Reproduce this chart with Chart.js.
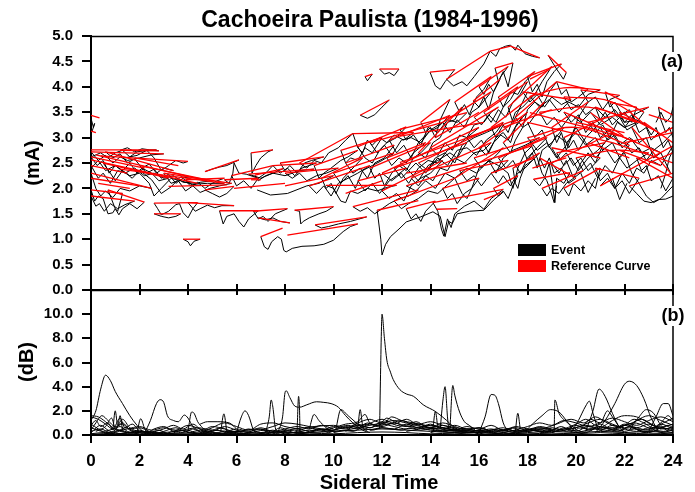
<!DOCTYPE html>
<html><head><meta charset="utf-8">
<script src="https://cdn.jsdelivr.net/npm/chart.js@4"></script>
<style>html,body{margin:0;padding:0;background:#fff;}#wrap{position:relative;width:695px;height:492px;}canvas{position:absolute;left:0;top:0;}</style>
</head><body><div id="wrap"><canvas id="ca" width="695" height="492"></canvas><canvas id="cb" width="695" height="492"></canvas></div>
<script>
const titleText = 'Cachoeira Paulista (1984-1996)';
const xTitle = 'Sideral Time';
const legendLabels = ['Event', 'Reference Curve'];
const hourTicks = [0,2,4,6,8,10,12,14,16,18,20,22,24];
const maTicks = [0,0.5,1,1.5,2,2.5,3,3.5,4,4.5,5];
const dbTicks = [0,2,4,6,8,10,12];

// Panel (a): reference curves (red), [hour, mA, hour, mA, ...]
const refCurves = [
[0,2.76,2.7,2.76],[0,2.72,3.0,2.68],[0.4,2.64,4.0,2.53],[0,2.56,4.4,2.1],[0.2,2.66,4.8,2.15],
[1.2,2.38,5.5,2.1],[0,2.3,2.5,2.0],[0,1.97,1.3,1.9],[0.7,1.97,2.2,1.73],[0,2.45,1.5,2.3],
[0,2.2,2.0,2.05],[1.2,2.75,2.8,2.74],[0.3,2.1,1.6,2.0],[0,3.44,0.35,3.39],[0,3.13,0.2,3.1],
[1.8,2.6,3.6,2.45],[0.5,2.5,3.2,2.2],[2.6,1.71,4.4,1.72],[4.0,1.72,5.9,1.66],[2.6,1.5,3.7,1.5],
[3.8,1.0,4.5,1.0],[4.7,2.33,6.1,2.56],[3.9,2.17,5.5,2.2],[4.7,1.97,5.9,2.04],[5.5,2.17,6.9,2.2],
[3.2,2.04,5.6,2.07],[6.6,2.7,7.5,2.76],[5.3,1.56,6.9,1.56],[6.7,1.55,8.1,1.6],[6.9,1.42,8.2,1.32],
[5.9,2.0,8.0,2.1],[7.0,1.05,7.9,1.22],[8.1,1.08,11.0,1.3],[8.0,2.05,10.0,2.25],[6.5,2.28,9.2,2.38],
[9.2,2.45,11.0,2.75],[6.76,2.26,7.93,2.39],[6.6,2.17,7.0,2.17],
[10.8,3.08,13.3,3.1],[8.6,2.5,10.8,3.08],[9.7,2.06,12.6,2.06],[10.8,1.64,13.5,1.97],[11.8,1.57,13.5,1.76],
[9.24,1.28,11.37,1.44],[8.4,1.57,10.0,1.64],[11.1,3.44,12.3,3.74],[11.3,4.2,11.6,4.25],[11.9,4.35,12.7,4.35],
[12.0,2.3,16.0,3.2],[12.3,2.95,14.8,3.44],[11.0,2.82,13.0,3.21],[12.74,2.51,16.87,3.23],[13.0,2.05,18.2,2.84],
[14.1,1.72,17.0,1.98],[12.74,3.16,15.5,3.49],[12.74,3.03,16.2,3.3],[14.66,4.15,16.46,4.7],[13.98,4.29,15.0,4.34],
[16.46,4.7,17.3,4.8],[17.3,4.8,18.5,4.57],[16.66,4.37,17.4,4.47],[15.76,3.72,16.87,4.15],[15.8,3.4,17.6,4.0],
[13.5,2.7,15.3,3.6],[12.0,1.95,14.5,2.55],[12.5,1.75,15.0,2.2],[15.0,2.2,17.0,2.8],[16.2,1.78,16.9,1.91],
[14.25,1.59,15.1,1.6],[17.4,2.4,18.5,2.7],[17.0,2.9,18.7,3.7],[16.0,2.8,18.0,3.5],[17.5,3.4,19.2,4.1],
[16.8,3.8,18.3,4.3],[18.85,4.62,19.6,4.28],[18.1,3.81,19.5,3.98,21.0,3.94],[20.2,3.94,21.8,3.83],[21.4,3.69,22.5,3.6],
[23.4,3.6,24.0,3.44],[18.0,3.3,21.5,2.9],[19.5,3.5,22.5,2.9],[18.0,3.0,20.0,3.2,22.2,2.85],[18.25,2.18,19.75,2.31],
[21.0,2.05,24.0,2.84],[19.0,2.5,21.5,3.1],[20.0,2.6,21.5,2.75,23.0,2.7],[21.5,2.9,24.0,2.5],[22.2,2.05,24.0,2.3],
[22.8,3.3,24.0,2.9],[23.0,2.5,24.0,2.7],[20.5,3.3,23.0,3.6],[19.0,3.2,20.5,3.7],[18.5,2.6,20.0,2.2],
[19.5,2.0,21.0,2.4],[22.3,3.2,23.9,2.3],[23.2,3.0,24.0,3.2],[21.8,2.75,23.5,2.45],[17.8,2.8,19.5,3.2],
[15.8,2.6,18.5,3.0],[10.0,2.3,12.5,2.7],[9.0,2.05,11.5,2.45],[10.5,1.9,12.0,2.15],[10.3,2.75,12.0,3.0],
[8.0,2.3,10.2,2.4],[7.5,2.45,9.3,2.5],[18.1,3.49,21.8,3.03],[20.6,3.49,21.95,3.03],[18.1,4.15,18.9,4.34],
[0,2.62,2.2,2.4],[0.6,2.72,3.4,2.35],[2.0,2.45,5.0,2.15],[3.0,2.3,5.8,2.1],[5.8,2.25,7.5,2.45],
[0,1.85,1.8,1.75],[7.8,2.5,9.6,2.62],[9.5,2.2,11.2,2.6],[11.5,2.4,14.0,2.9],[13.2,2.2,16.5,2.9],
[14.0,2.8,16.8,3.6],[14.5,3.3,16.5,3.9],[15.5,3.0,17.8,3.4],[16.5,3.2,18.4,3.9],[17.2,3.6,19.0,4.4],
[18.0,4.2,19.4,4.45],[19.2,4.1,20.5,3.95],[16.0,4.0,17.2,4.4],[13.6,3.3,14.8,3.75],[12.2,2.6,13.8,2.9],
[20.8,3.6,22.6,3.3],[21.8,3.5,23.4,3.1],[19.0,2.8,21.0,2.6],[20.8,2.4,22.6,2.2],[16.5,2.3,18.3,2.6],
[18.6,2.0,20.3,2.35],[13.0,1.6,14.2,1.75],[16.6,2.0,17.6,2.25],[22.5,2.6,24.0,2.2],[23.0,3.45,24.0,3.3],
[14.5,2.0,16.0,2.2],[19.5,3.0,21.2,3.4],[21.2,3.9,22.8,3.5],[17.8,3.9,19.8,3.75],
[11.5,2.9,14.5,3.3],[12.5,2.4,15.5,2.9],[13.5,2.5,17.0,3.3],[14.2,3.0,16.0,3.5],[15.0,3.7,16.5,4.2],
[16.2,3.5,18.0,4.1],[17.0,3.2,19.0,3.55],[18.5,3.5,20.5,3.6,22.5,3.3],[19.5,3.8,21.5,3.7,23.0,3.2],[20.0,3.3,22.0,3.1],
[21.0,3.2,23.5,2.7],[22.0,2.9,24.0,3.1],[13.0,2.3,15.5,2.5],[10.5,2.5,12.5,2.85],[16.8,2.6,18.8,3.0],
[19.2,2.7,21.2,2.9],[20.5,2.9,22.2,2.6],[15.2,2.35,17.2,2.55],[18.2,2.4,19.6,2.6],[11.0,2.15,13.0,2.4]
];

// Panel (a): event curves (black)
const eventCurves = [
[0,2.62,0.4,2.7,0.7,2.6,1.0,2.7,1.3,2.75,1.6,2.62,1.9,2.72,2.2,2.74,2.7,2.76],
[0,2.72,0.3,2.55,0.6,2.65,0.9,2.5,1.2,2.62,1.5,2.55,2.0,2.6,2.5,2.66,3.0,2.68],
[1.4,2.6,1.9,2.65,2.3,2.75,2.6,2.6,2.9,2.35,3.2,2.45,3.5,2.55,3.8,2.5,4.0,2.53],
[0,2.4,0.3,2.55,0.6,2.35,1.0,2.45,1.4,2.3,1.8,2.4,2.2,2.25,2.6,2.3,3.0,2.2,3.4,2.25,3.8,2.12,4.4,2.1],
[1.2,2.38,1.6,2.25,2.0,2.3,2.4,2.1,2.6,1.85,2.9,2.0,3.3,2.2,3.7,2.15,4.2,2.08,4.8,2.1,5.5,2.1],
[0,2.3,0.2,2.0,0.4,1.85,0.6,1.95,0.9,1.82,1.2,2.0,1.6,1.95,2.0,2.05,2.5,2.0],
[0,1.97,0.15,1.75,0.3,1.85,0.5,1.8,0.7,1.5,0.9,1.52,1.0,1.6,1.1,1.55,1.3,1.9],
[0.7,1.97,1.0,1.6,1.15,1.48,1.3,1.6,1.6,1.7,1.9,1.6,2.2,1.73],
[0,2.45,0.3,2.2,0.5,2.3,0.8,2.1,1.1,2.35,1.5,2.3],
[1.2,2.75,1.5,2.8,1.8,2.72,2.1,2.78,2.4,2.76,2.8,2.74],
[0,3.38,0.1,3.2,0.15,3.28,0.05,3.13],
[0.5,2.5,0.8,2.3,1.0,2.15,1.3,2.35,1.7,2.2,2.1,2.4,2.5,2.3,2.8,2.15,3.2,2.2],
[2.6,1.71,2.75,1.6,2.9,1.48,3.2,1.55,3.5,1.68,3.65,1.7,3.8,1.52,4.0,1.42,4.2,1.6,4.4,1.72],
[4.0,1.72,4.3,1.55,4.5,1.6,4.8,1.67,5.1,1.62,5.4,1.66,5.9,1.66],
[2.6,1.5,2.9,1.45,3.2,1.42,3.5,1.45,3.7,1.5],
[3.8,1.0,4.0,0.95,4.1,0.87,4.25,0.96,4.5,1.0],
[4.7,2.33,5.0,2.38,5.3,2.42,5.6,2.45,6.1,2.56],
[3.9,2.17,4.2,2.05,4.4,2.12,4.7,2.0,5.0,2.1,5.2,2.15,5.5,2.2],
[4.7,1.97,5.0,1.9,5.3,1.83,5.6,1.9,5.9,2.04],
[5.5,2.17,5.7,2.1,5.85,2.3,5.9,2.5,6.1,2.3,6.4,2.28,6.9,2.2],
[6.6,2.7,6.64,2.3,6.8,2.45,7.0,2.6,7.3,2.72,7.5,2.76],
[5.3,1.56,5.45,1.3,5.6,1.45,5.9,1.5,6.1,1.35,6.3,1.24,6.5,1.4,6.9,1.56],
[6.7,1.55,6.9,1.4,7.1,1.45,7.3,1.35,7.6,1.5,8.1,1.6],
[6.9,1.42,7.2,1.38,7.5,1.42,7.8,1.35,8.2,1.32],
[7.0,1.05,7.15,0.85,7.3,0.8,7.45,0.95,7.7,1.05,7.85,1.0,7.95,0.78,8.05,0.75,8.3,0.82,8.7,0.86,9.2,0.87,9.6,0.9,10.0,0.98,10.4,1.15,10.7,1.25,11.0,1.3],
[6.85,1.97,7.4,1.87,8.1,1.9,8.9,2.05,9.4,2.1,10.0,2.25],
[6.5,2.28,7.0,2.2,7.5,2.3,8.0,2.25,8.6,2.35,9.2,2.38],
[9.2,2.45,9.4,2.2,9.6,2.3,9.9,2.4,10.3,2.55,10.6,2.62,11.0,2.75],
[6.76,2.26,6.9,2.15,7.2,2.25,7.5,2.3,7.93,2.39],
[2.0,2.36,2.5,2.17,2.9,1.9,3.3,2.03,3.7,2.23,4.1,2.2],
[10.8,3.08,11.0,2.8,11.2,2.7,11.4,2.95,11.6,2.85,11.9,3.0,12.2,2.9,12.5,3.05,12.9,2.95,13.3,3.1],
[8.6,2.5,8.9,2.4,9.2,2.55,9.5,2.5,9.8,2.7,10.2,2.8,10.5,2.95,10.8,3.08],
[9.7,2.06,10.0,2.0,10.3,1.75,10.5,1.72,10.7,1.95,11.0,1.9,11.4,2.0,11.8,1.95,12.2,2.02,12.6,2.06],
[10.8,1.64,11.1,1.55,11.4,1.62,11.7,1.5,12.0,1.6,12.3,1.7,12.7,1.8,13.1,1.85,13.5,1.97],
[11.8,1.57,11.95,1.0,12.0,0.69,12.15,0.9,12.35,1.05,12.7,1.2,13.0,1.34,13.6,1.44,14.1,1.54,14.4,1.45,14.6,1.05,14.75,1.35,14.9,1.31,15.1,1.5,15.6,1.55,16.2,1.57,16.6,1.77,17.0,1.93],
[9.24,1.28,9.5,1.22,9.8,1.25,10.2,1.3,10.7,1.35,11.37,1.44],
[8.4,1.57,8.6,1.55,8.65,1.3,8.75,1.35,9.0,1.42,9.4,1.5,9.7,1.55,10.0,1.64],
[11.1,3.44,11.4,3.38,11.7,3.45,12.0,3.6,12.3,3.74],
[11.3,4.2,11.4,4.12,11.6,4.25],
[11.9,4.35,12.1,4.25,12.3,4.28,12.5,4.22,12.7,4.35],
[12.0,2.3,12.4,2.15,12.8,2.3,13.1,2.1,13.5,2.4,13.9,2.55,14.3,2.5,14.7,2.75,15.1,2.85,15.5,3.0,16.0,3.2],
[12.3,2.95,12.6,2.7,12.9,2.85,13.2,2.6,13.5,2.9,13.9,3.1,14.3,3.2,14.8,3.44],
[11.0,2.82,11.3,2.6,11.6,2.5,11.9,2.75,12.2,2.9,12.6,3.0,13.0,3.21],
[12.74,2.51,13.1,2.35,13.4,2.5,13.8,2.3,14.2,2.6,14.6,2.7,15.0,2.5,15.3,2.85,15.8,3.0,16.3,3.1,16.87,3.23],
[13.0,2.05,13.4,1.95,13.8,2.15,14.2,2.0,14.6,2.3,15.0,2.2,15.5,2.4,15.9,2.3,16.4,2.55,16.8,2.45,17.2,2.3,17.4,2.0,17.6,2.4,17.9,2.7,18.2,2.84],
[14.1,1.72,14.3,1.55,14.45,1.2,14.55,1.06,14.7,1.4,14.85,1.23,15.0,1.5,15.4,1.65,15.8,1.75,16.2,1.59,16.5,1.8,17.0,1.98],
[12.74,3.16,13.0,2.95,13.3,3.05,13.6,2.85,13.9,3.2,14.3,3.1,14.7,3.35,15.1,3.3,15.5,3.49],
[14.66,4.15,14.95,4.02,15.3,4.1,15.5,4.02,15.8,4.2,16.2,4.45,16.46,4.7],
[13.98,4.29,14.2,4.02,14.4,3.95,14.6,4.1,15.0,4.34],
[16.46,4.7,16.7,4.6,16.85,4.75,17.1,4.8,17.3,4.82,17.5,4.72,17.6,4.82,17.9,4.65,18.2,4.6,18.5,4.57],
[16.66,4.37,16.8,4.1,17.0,4.3,17.2,4.0,17.4,4.47],
[15.76,3.72,16.0,3.6,16.2,3.8,16.4,3.55,16.6,3.9,16.87,4.15],
[15.8,3.4,16.1,3.25,16.4,3.45,16.7,3.3,17.0,3.6,17.3,3.75,17.6,4.0],
[13.5,2.7,13.8,2.6,14.1,2.9,14.4,3.0,14.7,3.3,15.0,3.35,15.3,3.6],
[12.0,1.95,12.3,1.8,12.6,1.9,12.9,1.75,13.2,2.05,13.6,2.2,14.0,2.3,14.5,2.55],
[12.5,1.75,12.8,1.6,13.1,1.7,13.5,1.8,13.9,1.95,14.3,1.9,15.0,2.2],
[15.0,2.2,15.3,1.9,15.5,1.8,15.7,2.0,16.0,2.4,16.3,2.5,16.6,2.6,17.0,2.8],
[17.4,2.4,17.5,2.1,17.6,2.0,17.7,2.2,17.9,2.45,18.2,2.55,18.5,2.7],
[17.0,2.9,17.3,2.7,17.5,2.95,17.8,3.2,18.1,3.3,18.4,3.5,18.7,3.7],
[16.0,2.8,16.3,2.65,16.6,2.9,16.9,3.05,17.2,2.95,17.6,3.3,18.0,3.5],
[17.5,3.4,17.8,3.2,18.0,3.55,18.3,3.7,18.6,3.6,18.9,3.9,19.2,4.1],
[16.8,3.8,17.0,3.6,17.3,3.9,17.6,3.85,17.9,4.1,18.3,4.3],
[18.85,4.62,19.2,4.35,19.48,4.15,19.6,4.28],
[18.1,3.81,18.5,3.6,18.9,3.75,19.3,3.5,19.7,3.7,20.1,3.6,20.5,3.85,21.0,3.94],
[20.2,3.94,20.5,3.7,20.8,3.8,21.1,3.55,21.4,3.75,21.8,3.83],
[21.4,3.69,21.7,3.4,22.0,3.5,22.3,3.3,22.5,3.6],
[23.4,3.6,23.5,3.35,23.7,3.1,23.85,3.2,24.0,3.0],
[18.0,3.3,18.3,3.0,18.6,3.15,18.9,2.8,19.2,3.05,19.6,2.9,20.0,3.1,20.4,2.85,20.8,3.0,21.1,2.75,21.5,2.9],
[19.5,3.5,19.8,3.3,20.1,3.45,20.4,3.1,20.7,3.3,21.0,3.0,21.4,3.15,21.8,2.85,22.2,3.0,22.5,2.9],
[18.0,3.0,18.4,2.75,18.8,2.9,19.2,2.6,19.6,2.85,20.0,3.2,20.4,2.9,20.8,2.6,21.2,2.8,21.6,2.5,22.2,2.85],
[18.25,2.18,18.5,2.05,18.7,2.2,18.9,2.5,19.05,2.0,19.13,1.72,19.2,2.2,19.5,2.1,19.75,2.31],
[21.0,2.05,21.3,2.2,21.6,2.0,21.9,2.3,22.2,2.1,22.5,2.4,22.8,2.3,23.1,2.55,23.5,2.45,24.0,2.84],
[19.0,2.5,19.3,2.3,19.6,2.55,19.9,2.2,20.2,2.5,20.5,2.7,20.8,2.5,21.1,2.85,21.5,3.1],
[20.0,2.6,20.3,2.35,20.6,2.5,20.9,2.2,21.2,2.45,21.5,2.3,21.8,2.6,22.1,2.4,22.5,2.55,23.0,2.7],
[21.5,2.9,21.8,2.6,22.0,2.7,22.3,2.3,22.6,2.1,22.9,1.85,23.2,1.72,23.5,1.8,23.8,1.95,24.0,2.05],
[22.2,2.05,22.5,1.9,22.8,1.75,23.1,1.72,23.4,1.78,23.7,1.79,24.0,1.85],
[22.8,3.3,23.1,3.05,23.3,3.2,23.6,2.8,23.8,2.95,24.0,2.7],
[20.5,3.3,20.8,3.1,21.1,3.25,21.4,3.0,21.7,3.3,22.0,3.2,22.4,3.45,23.0,3.6],
[19.0,3.2,19.2,2.9,19.4,3.1,19.6,2.75,19.8,3.0,20.1,3.4,20.5,3.7],
[18.5,2.6,18.7,2.4,18.9,2.6,19.1,2.3,19.4,2.4,19.7,2.1,20.0,2.2],
[19.5,2.0,19.7,1.85,19.9,2.1,20.2,1.95,20.5,2.15,20.8,2.0,21.0,2.4],
[22.3,3.2,22.6,2.9,22.9,3.0,23.2,2.6,23.5,2.7,23.9,2.3],
[17.8,2.8,18.0,2.55,18.2,2.7,18.4,2.4,18.6,2.75,19.0,2.9,19.5,3.2],
[15.8,2.6,16.1,2.4,16.4,2.55,16.7,2.3,17.0,2.6,17.4,2.75,17.9,2.85,18.5,3.0],
[10.0,2.3,10.3,2.1,10.6,2.25,10.9,2.0,11.2,2.35,11.6,2.45,12.0,2.55,12.5,2.7],
[9.0,2.05,9.3,1.9,9.6,2.05,9.9,1.85,10.2,2.1,10.6,2.2,11.0,2.3,11.5,2.45],
[10.3,2.75,10.5,2.5,10.7,2.6,11.0,2.55,11.3,2.8,11.6,2.7,12.0,3.0],
[8.0,2.3,8.3,2.2,8.6,2.3,8.9,2.15,9.3,2.25,9.7,2.3,10.2,2.4],
[7.5,2.45,7.8,2.3,8.1,2.4,8.4,2.25,8.7,2.4,9.0,2.45,9.3,2.5],
[23.5,2.0,23.7,2.3,23.85,2.6,24.0,2.75],
[23.3,3.3,23.5,3.5,23.7,3.3,23.9,3.4,24.0,3.6],
[18.1,2.9,18.4,2.6,18.6,2.3,18.8,2.15,18.95,1.95,19.1,1.72,19.2,2.05],
[20.2,2.3,20.5,1.92,20.8,2.2],
[21.5,2.2,21.8,1.78,22.1,2.1],
[0,2.62,0.25,2.45,0.5,2.55,0.75,2.3,1.0,2.45,1.3,2.35,1.6,2.5,1.9,2.3,2.2,2.4],
[0.6,2.72,0.9,2.6,1.2,2.68,1.5,2.5,1.8,2.58,2.1,2.4,2.4,2.48,2.7,2.3,3.0,2.4,3.4,2.35],
[2.0,2.45,2.3,2.3,2.6,2.38,2.9,2.2,3.2,2.28,3.5,2.1,3.8,2.2,4.1,2.05,4.5,2.12,5.0,2.15],
[3.0,2.3,3.3,2.1,3.6,2.15,3.9,1.95,4.2,2.05,4.5,1.92,4.9,2.0,5.3,2.05,5.8,2.1],
[5.8,2.25,6.0,2.05,6.3,2.15,6.6,2.0,6.9,2.2,7.2,2.3,7.5,2.45],
[0,1.85,0.2,1.65,0.35,1.7,0.55,1.55,0.8,1.7,1.1,1.6,1.4,1.68,1.8,1.75],
[7.8,2.5,8.0,2.35,8.2,2.45,8.5,2.3,8.8,2.5,9.1,2.55,9.6,2.62],
[9.5,2.2,9.7,2.0,9.9,2.1,10.1,1.9,10.4,2.2,10.7,2.35,11.2,2.6],
[11.5,2.4,11.7,2.2,11.9,2.3,12.1,2.05,12.4,2.3,12.7,2.45,13.0,2.35,13.3,2.6,13.6,2.7,14.0,2.9],
[13.2,2.2,13.5,2.05,13.8,2.25,14.1,2.15,14.4,2.4,14.7,2.35,15.0,2.6,15.4,2.5,15.8,2.7,16.2,2.75,16.5,2.9],
[14.0,2.8,14.3,2.65,14.6,2.9,14.9,2.75,15.2,3.05,15.5,3.0,15.8,3.25,16.2,3.3,16.5,3.5,16.8,3.6],
[14.5,3.3,14.8,3.1,15.1,3.35,15.4,3.2,15.7,3.5,16.0,3.6,16.5,3.9],
[15.5,3.0,15.8,2.8,16.1,2.95,16.4,2.7,16.7,3.0,17.0,3.1,17.3,2.9,17.5,3.2,17.8,3.4],
[16.5,3.2,16.7,3.0,17.0,3.25,17.2,3.1,17.5,3.5,17.8,3.6,18.1,3.75,18.4,3.9],
[17.2,3.6,17.4,3.3,17.6,3.5,17.8,3.7,18.0,3.9,18.3,3.85,18.6,4.1,19.0,4.4],
[18.0,4.2,18.2,3.9,18.4,4.05,18.6,3.8,18.8,4.1,19.1,4.3,19.4,4.45],
[19.2,4.1,19.4,3.85,19.6,3.95,19.8,3.7,20.1,3.8,20.5,3.95],
[16.0,4.0,16.2,3.85,16.4,4.05,16.6,3.9,16.9,4.2,17.2,4.4],
[13.6,3.3,13.8,3.1,14.0,3.2,14.2,3.0,14.4,3.35,14.8,3.75],
[12.2,2.6,12.4,2.45,12.7,2.6,13.0,2.5,13.3,2.7,13.8,2.9],
[20.8,3.6,21.0,3.35,21.2,3.5,21.5,3.25,21.8,3.4,22.1,3.15,22.6,3.3],
[21.8,3.5,22.0,3.3,22.3,3.45,22.6,3.1,22.9,3.2,23.1,2.95,23.4,3.1],
[19.0,2.8,19.3,2.55,19.6,2.7,19.9,2.45,20.2,2.6,20.5,2.35,21.0,2.6],
[20.8,2.4,21.0,2.15,21.3,2.3,21.6,2.0,21.9,2.15,22.2,1.9,22.6,2.2],
[16.5,2.3,16.8,2.1,17.0,2.25,17.3,2.05,17.6,2.3,17.9,2.4,18.3,2.6],
[18.6,2.0,18.8,1.85,19.0,2.0,19.3,1.9,19.6,2.1,19.9,2.2,20.3,2.35],
[13.0,1.6,13.2,1.4,13.4,1.5,13.6,1.35,13.8,1.55,14.2,1.75],
[16.6,2.0,16.8,1.85,17.0,1.95,17.2,1.8,17.4,2.05,17.6,2.25],
[22.5,2.6,22.7,2.35,22.9,2.45,23.1,2.15,23.4,2.25,23.7,1.95,24.0,2.2],
[14.5,2.0,14.7,1.8,14.9,1.9,15.1,1.7,15.4,1.9,15.7,2.0,16.0,2.2],
[19.5,3.0,19.7,2.8,19.9,2.95,20.1,2.75,20.4,3.0,20.7,3.15,21.2,3.4],
[21.2,3.9,21.4,3.6,21.6,3.7,21.9,3.45,22.2,3.55,22.5,3.3,22.8,3.5],
[17.8,3.9,18.1,3.7,18.4,3.85,18.7,3.6,19.0,3.8,19.4,3.65,19.8,3.75],
[11.5,2.9,11.8,2.7,12.1,2.85,12.4,2.65,12.8,2.95,13.2,3.0,13.6,2.9,14.0,3.15,14.5,3.3],
[12.5,2.4,12.8,2.2,13.1,2.35,13.5,2.15,13.9,2.45,14.3,2.55,14.8,2.7,15.1,2.6,15.5,2.9],
[13.5,2.5,13.9,2.35,14.3,2.6,14.7,2.45,15.1,2.75,15.5,2.8,15.9,2.65,16.3,2.95,16.7,3.1,17.0,3.3],
[15.0,3.7,15.2,3.5,15.4,3.65,15.6,3.45,15.9,3.8,16.2,3.95,16.5,4.2],
[16.2,3.5,16.5,3.3,16.8,3.55,17.1,3.4,17.4,3.7,17.7,3.85,18.0,4.1],
[18.5,3.5,18.8,3.25,19.1,3.4,19.4,3.2,19.8,3.45,20.2,3.3,20.6,3.5,21.0,3.25,21.5,3.4,22.0,3.2,22.5,3.3],
[19.5,3.8,19.8,3.55,20.1,3.65,20.4,3.45,20.8,3.6,21.2,3.4,21.6,3.55,22.0,3.3,22.5,3.35,23.0,3.2],
[21.0,3.2,21.3,2.95,21.6,3.05,21.9,2.8,22.3,2.95,22.7,2.7,23.1,2.8,23.5,2.7],
[22.0,2.9,22.3,2.7,22.6,2.8,22.9,2.55,23.2,2.75,23.6,2.9,24.0,3.1],
[10.5,2.5,10.8,2.3,11.1,2.4,11.4,2.2,11.7,2.5,12.1,2.6,12.5,2.85],
[16.8,2.6,17.1,2.4,17.4,2.55,17.7,2.3,18.0,2.6,18.4,2.8,18.8,3.0],
[19.2,2.7,19.5,2.45,19.8,2.6,20.1,2.35,20.5,2.6,20.9,2.75,21.2,2.9],
[15.2,2.35,15.5,2.15,15.8,2.25,16.1,2.05,16.5,2.3,16.9,2.4,17.2,2.55],
[11.0,2.15,11.3,1.95,11.6,2.1,11.9,1.9,12.3,2.15,12.6,2.25,13.0,2.4]
];

// Panel (b): event amplitude curves (dB), [hour, dB, ...]
const dbCurves = [
[0,1.2,0.2,2.0,0.4,3.8,0.6,4.95,0.8,4.5,1.0,3.6,1.3,2.6,1.6,1.6,1.9,0.8,2.2,0.2,2.4,0.1],
[2.2,0.1,2.45,1.2,2.7,2.6,2.85,2.92,3.0,2.7,3.15,1.6,3.4,1.2,3.6,1.1,3.85,1.65,4.0,1.4,4.2,0.7,4.5,0.3],
[7.7,0.2,7.9,1.5,8.0,3.5,8.05,3.66,8.2,3.1,8.4,2.4,8.6,2.3,8.9,2.5,9.3,2.75,9.6,2.7,9.9,2.6,10.2,2.3,10.5,1.6,10.8,1.0,11.2,0.4,11.5,0.2],
[8.5,0.4,8.56,3.2,8.6,2.0,8.62,0.1],
[7.2,0.2,7.35,1.5,7.43,2.9,7.5,2.3,7.6,0.6,7.7,0.2],
[6.0,0.2,6.2,1.5,6.35,2.0,6.5,1.6,6.7,0.4,6.8,0.2],
[4.0,0.3,4.15,1.9,4.25,1.8,4.4,1.1,4.6,0.6],
[0.9,0.4,1.0,2.0,1.1,0.8,1.2,1.6,1.3,0.4],
[1.9,0.2,2.05,1.35,2.2,0.6,2.3,0.2],
[5.35,0.3,5.48,1.75,5.6,0.3],
[4.5,0.9,4.8,1.1,5.2,1.1,5.7,1.0,6.0,0.5],
[9.0,0.5,9.2,1.7,9.4,1.2,9.7,0.6,10.0,0.3],
[10.1,0.5,10.3,2.1,10.6,1.6,11.0,0.9,11.3,0.4],
[11.0,0.5,11.1,2.1,11.2,0.8,11.4,0.3],
[11.9,0.5,11.98,9.0,12.0,10.0,12.1,8.0,12.2,6.2,12.35,5.2,12.46,4.6,12.74,3.75,13.0,3.4,13.3,3.2,13.7,2.5,14.2,1.95,14.67,1.2,15.0,0.6,15.5,0.3],
[14.4,0.5,14.52,3.0,14.6,4.0,14.7,1.5,14.75,0.5],
[14.8,0.5,14.92,4.1,15.0,3.3,15.2,1.9,15.4,1.1,15.6,0.8,15.9,0.3],
[14.1,0.5,14.2,1.95,14.3,0.6],
[16.0,0.2,16.25,1.5,16.5,3.35,16.65,3.3,16.8,2.6,17.0,1.0,17.2,0.3],
[17.5,0.3,17.6,1.8,17.7,0.5],
[17.9,0.3,18.2,0.9,18.6,1.6,18.95,2.1,19.3,1.9,19.6,1.2,19.9,0.4],
[19.1,0.3,19.13,2.9,19.3,1.8,19.6,1.1,20.0,0.5],
[19.8,0.2,20.1,1.2,20.4,2.4,20.55,2.8,20.7,1.8,20.9,0.5],
[20.4,0.3,20.7,2.0,20.95,3.8,21.2,3.2,21.5,1.8,21.8,0.6,22.0,0.2],
[20.8,0.2,21.2,1.2,21.6,2.6,22.0,4.2,22.2,4.45,22.5,4.1,22.8,3.0,23.1,1.4,23.4,0.3],
[23.0,0.3,23.3,1.5,23.6,2.6,23.8,2.6,24.0,1.6],
[22.2,0.4,22.6,1.5,22.9,2.1,23.2,1.8,23.5,0.8,23.8,0.3],
[21.0,0.5,21.5,1.2,22.0,1.6,22.5,1.5,23.0,1.0,23.5,0.5],
[20.2,0.5,20.6,1.3,21.0,1.0,21.3,2.0,21.5,1.5,21.8,0.6],
[23.2,0.5,23.5,1.0,23.8,1.6,24.0,1.2],
[0,0.6,0.5,0.3,1.0,0.5,1.5,0.2,2.0,0.4,2.5,0.1,3.0,0.3,3.5,0.6,4.0,0.2,4.5,0.4,5.0,0.1,5.5,0.3,6.0,0.2,6.5,0.5,7.0,0.2,7.5,0.4,8.0,0.1,8.5,0.3,9.0,0.6,9.5,0.4,10.0,0.7,10.5,0.5,11.0,0.8,11.5,0.6,12.0,0.9,12.5,0.7,13.0,0.5,13.5,0.6,14.0,0.4,14.5,0.3,15.0,0.2,15.5,0.4,16.0,0.1,16.5,0.3,17.0,0.2,17.5,0.4,18.0,0.3,18.5,0.5,19.0,0.2,19.5,0.6,20.0,0.3,20.5,0.7,21.0,0.4,21.5,0.8,22.0,0.5,22.5,0.3,23.0,0.6,23.5,0.2,24.0,0.4],
[0,1.5,0.3,1.3,0.6,0.9,0.9,0.5,1.2,0.7,1.5,0.3,1.8,0.2,2.4,0.3,3.0,0.1,3.6,0.4,4.2,0.2,4.8,0.3,5.4,0.1,6.0,0.3,6.6,0.2,7.2,0.1,7.8,0.3,8.4,0.2,9.0,0.4,9.6,0.3,10.2,0.5,10.8,0.7,11.4,0.9,12.0,1.3,12.3,1.1,12.6,0.8,13.2,0.7,13.8,0.5,14.4,0.6,15.0,0.4,15.6,0.2,16.2,0.3,16.8,0.5,17.4,0.2,18.0,0.4,18.6,0.6,19.2,0.3,19.8,0.5,20.4,0.8,21.0,0.5,21.6,0.3,22.2,0.6,22.8,0.4,23.4,0.7,24.0,0.3],
[0,0.2,0.4,0.8,0.7,0.4,1.0,0.2,1.4,0.6,1.8,0.3,2.2,0.1,2.6,0.5,3.0,0.7,3.4,0.3,3.8,0.2,4.2,0.5,4.6,0.2,5.0,0.4,5.4,0.6,5.8,0.2,6.2,0.1,6.6,0.3,7.0,0.5,7.4,0.2,7.8,0.6,8.2,0.3,8.6,0.1,9.0,0.3,9.4,0.5,9.8,0.2,10.2,0.6,10.6,0.8,11.0,0.6,11.4,1.0,11.8,0.7,12.2,1.4,12.6,1.0,13.0,0.8,13.4,1.1,13.8,0.7,14.2,0.5,14.6,0.3,15.0,0.5,15.4,0.2,15.8,0.3,16.2,0.5,16.6,0.2,17.0,0.4,17.4,0.6,17.8,0.3,18.2,0.5,18.6,0.2,19.0,0.4,19.4,0.7,19.8,0.3,20.2,0.6,20.6,0.4,21.0,0.9,21.4,0.5,21.8,0.3,22.2,0.7,22.6,0.4,23.0,0.2,23.4,0.5,23.8,0.8,24.0,0.6],
[0,0.9,0.3,0.5,0.6,0.2,1.0,0.4,1.3,1.3,1.6,0.6,2.0,0.3,2.8,0.2,3.5,0.3,4.4,0.6,5.0,0.4,6.0,0.3,6.8,0.5,7.6,0.3,8.4,0.5,9.2,0.7,10.0,0.8,10.5,0.6,11.0,1.0,11.5,1.3,11.8,1.1,12.2,0.9,12.8,1.2,13.2,0.9,13.6,0.7,14.4,0.5,15.2,0.3,16.0,0.2,16.8,0.4,17.6,0.3,18.4,0.6,19.2,0.4,20.0,0.9,20.4,1.3,20.8,0.8,21.6,0.6,22.4,1.0,23.2,0.5,24.0,0.9],
[0,0.1,0.5,0.2,1.0,0.1,2.0,0.2,3.0,0.1,4.0,0.1,5.0,0.2,6.0,0.1,7.0,0.2,8.0,0.2,9.0,0.2,10.0,0.3,11.0,0.4,12.0,0.5,13.0,0.4,14.0,0.3,15.0,0.2,16.0,0.2,17.0,0.1,18.0,0.2,19.0,0.3,20.0,0.2,21.0,0.3,22.0,0.2,23.0,0.3,24.0,0.2],
[0,0.4,0.2,1.0,0.45,1.6,0.7,1.2,1.0,0.7,1.3,0.9,1.6,0.4,2.0,0.2],
[9.5,0.3,10.0,0.6,10.5,0.9,11.0,1.1,11.3,1.7,11.5,1.0,12.0,0.8,12.4,1.5,12.8,1.2,13.3,1.0,13.8,0.8,14.3,0.7,14.8,0.5,15.3,0.4,15.8,0.3],
[10.0,0.2,10.5,0.4,11.0,0.6,11.5,0.8,12.0,1.0,12.5,1.2,13.0,1.0,13.5,0.9,14.0,1.1,14.5,0.8,15.0,0.6,15.5,0.5,16.0,0.3],
[17.0,0.2,17.5,0.4,18.0,0.7,18.5,1.0,19.0,0.8,19.5,1.2,20.0,1.0,20.5,0.7,21.0,1.0,21.5,1.4,22.0,1.1,22.5,0.8,23.0,1.2,23.5,1.5,24.0,1.1],
[18.0,0.3,18.6,0.5,19.2,0.9,19.8,1.3,20.3,1.0,20.8,1.5,21.2,1.1,21.7,0.7,22.2,0.9,22.7,1.3,23.2,0.8,23.7,0.5,24.0,0.7],
[4.5,0.2,5.0,0.6,5.5,1.0,6.0,0.7,6.5,0.4,7.0,0.9,7.5,1.0,8.0,0.7,8.5,0.5,9.0,0.3],
[7.0,0.4,7.5,0.7,8.0,1.0,8.5,0.9,9.0,0.7,9.5,0.5,10.0,0.3],
[1.0,0.3,1.5,0.5,2.0,0.7,2.5,0.4,3.0,0.6,3.5,0.4,4.0,0.8,4.5,0.5,5.0,0.3,5.5,0.7,6.0,0.4,6.5,0.2],
[13.0,0.3,13.5,0.5,14.0,0.8,14.5,0.6,15.0,0.4,15.5,0.7,16.0,0.5,16.5,0.8,17.0,0.4,17.5,0.6,18.0,0.4,18.5,0.7,19.0,0.5],
[0,1.6,0.3,1.5,0.6,1.1,0.9,0.6,1.2,0.3,1.5,0.2,2.0,0.1],
[0,0.8,0.2,1.2,0.4,0.7,0.7,1.0,0.9,0.5,1.2,1.4,1.4,0.6,1.7,0.9,2.0,0.3],
[0.2,0.3,0.6,0.7,0.85,1.4,1.0,0.6,1.3,1.0,1.6,0.5,2.0,0.6,2.4,0.3],
[2.5,0.2,3.0,0.5,3.4,0.8,3.8,0.5,4.2,0.9,4.6,0.4,5.0,0.7,5.5,0.5,6.0,0.2],
[9.0,0.2,9.5,0.5,10.0,0.4,10.5,0.7,11.0,0.5,11.5,0.9,12.0,0.7,12.5,1.0,13.0,0.7,13.5,0.9,14.0,0.6,14.5,0.8,15.0,0.5,15.5,0.3,16.0,0.4,16.5,0.2],
[10.5,0.3,11.0,0.9,11.5,0.6,12.0,1.1,12.5,0.9,13.0,1.3,13.5,0.8,14.0,0.6,14.5,1.0,15.0,0.7,15.5,0.4,16.0,0.6,16.5,0.3],
[16.0,0.3,16.5,0.5,17.0,0.3,17.5,0.7,18.0,0.5,18.5,0.3,19.0,0.6,19.5,0.4,20.0,0.8,20.5,0.5,21.0,0.7,21.5,0.4,22.0,0.9,22.5,0.6,23.0,0.4,23.5,0.9,24.0,0.5],
[19.0,0.2,19.5,0.5,20.0,0.6,20.5,1.0,21.0,1.3,21.5,0.9,22.0,0.6,22.5,1.2,23.0,1.6,23.5,1.2,24.0,0.8],
[21.5,0.3,22.0,0.8,22.4,1.3,22.8,1.0,23.2,0.6,23.6,1.0,24.0,1.4],
[5.5,0.2,6.0,0.5,6.5,0.3,7.0,0.6,7.5,0.3,8.0,0.5,8.5,0.7,9.0,0.5,9.5,0.8,10.0,0.5],
[14.0,0.2,14.5,0.4,15.0,0.3,15.5,0.5,16.0,0.3,16.5,0.4,17.0,0.6,17.5,0.3,18.0,0.5,18.5,0.3,19.0,0.4],
[0,0.3,0.4,0.5,0.8,0.2,1.2,0.4,1.6,0.2,2.0,0.3,2.4,0.2,2.8,0.4,3.2,0.1,3.6,0.3,4.0,0.4,4.4,0.1,4.8,0.2,5.2,0.4,5.6,0.2,6.0,0.3,6.4,0.1,6.8,0.3,7.2,0.4,7.6,0.1,8.0,0.3,8.4,0.4,8.8,0.2,9.2,0.3,9.6,0.5,10.0,0.3,10.4,0.4,10.8,0.3,11.2,0.6,11.6,0.4,12.0,0.6,12.4,0.5,12.8,0.4,13.2,0.6,13.6,0.4,14.0,0.5,14.4,0.3,14.8,0.4,15.2,0.3,15.6,0.2,16.0,0.4,16.4,0.2,16.8,0.3,17.2,0.5,17.6,0.2,18.0,0.3,18.4,0.4,18.8,0.2,19.2,0.5,19.6,0.3,20.0,0.4,20.4,0.2,20.8,0.5,21.2,0.3,21.6,0.5,22.0,0.3,22.4,0.5,22.8,0.2,23.2,0.4,23.6,0.3,24.0,0.5],
[0,0.05,1.0,0.15,2.0,0.05,3.0,0.15,4.0,0.05,5.0,0.15,6.0,0.05,7.0,0.1,8.0,0.05,9.0,0.15,10.0,0.1,11.0,0.2,12.0,0.25,13.0,0.2,14.0,0.1,15.0,0.15,16.0,0.05,17.0,0.15,18.0,0.1,19.0,0.15,20.0,0.1,21.0,0.2,22.0,0.1,23.0,0.15,24.0,0.1],
[11.5,0.4,12.0,0.6,12.5,0.5,13.0,0.9,13.5,0.6,14.0,0.9,14.5,0.5,15.0,0.8,15.5,0.5,16.0,0.6,16.5,0.3],
[20.0,0.2,20.5,0.4,21.0,0.6,21.5,0.5,22.0,0.8,22.5,0.6,23.0,0.9,23.5,0.5,24.0,0.6]
];

const FONT = 'Liberation Sans, Arial, sans-serif';
Chart.defaults.font.family = FONT;
Chart.defaults.color = '#000';

function toPts(arr){ const p=[]; for(let i=0;i<arr.length;i+=2) p.push({x:arr[i], y:arr[i+1]}); return p; }
function setTicks(list){ return s => { s.ticks = list.map(v => ({value:v})); }; }

function drawText(ctx, txt, x, y, font, align, rot){
  ctx.save(); ctx.font = font; ctx.fillStyle = '#000'; ctx.textAlign = align || 'center'; ctx.textBaseline = 'middle';
  ctx.translate(x, y); if (rot) ctx.rotate(rot); ctx.fillText(txt, 0, 0); ctx.restore();
}
function frame(chart, inwardTop){
  const ctx = chart.ctx, a = chart.chartArea, xs = chart.scales.x;
  ctx.save(); ctx.strokeStyle = '#000';
  ctx.lineWidth = 1.5;
  ctx.beginPath(); ctx.moveTo(a.left, a.top + 0.5); ctx.lineTo(a.right, a.top + 0.5); ctx.lineTo(a.right, a.bottom); ctx.stroke();
  ctx.lineWidth = 2;
  hourTicks.forEach(v => {
    const x = Math.round(xs.getPixelForValue(v));
    ctx.beginPath();
    if (inwardTop) { ctx.moveTo(x, a.top); ctx.lineTo(x, a.top + 5); }
    else { ctx.moveTo(x, a.bottom); ctx.lineTo(x, a.bottom - 6); }
    ctx.stroke();
  });
  ctx.restore();
}
function panelTag(ctx, txt, x, y){
  ctx.save(); ctx.font = 'bold 18px ' + FONT;
  const w = ctx.measureText(txt).width;
  ctx.fillStyle = '#fff'; ctx.fillRect(x - w/2 - 1, y - 10, w + 2, 20);
  ctx.restore();
  drawText(ctx, txt, x, y, 'bold 18px ' + FONT, 'center');
}

const decoA = { id:'decoA', afterDraw(chart){
  const ctx = chart.ctx;
  frame(chart, false);
  panelTag(ctx, '(a)', 672, 62);
  drawText(ctx, titleText, 370, 21, 'bold 23px ' + FONT, 'center');
  drawText(ctx, '(mA)', 33, 163, 'bold 20px ' + FONT, 'center', -Math.PI/2);
  ctx.save();
  ctx.fillStyle = '#000'; ctx.fillRect(518, 244, 28, 12);
  ctx.fillStyle = '#ff0000'; ctx.fillRect(518, 260, 28, 12);
  ctx.restore();
  drawText(ctx, legendLabels[0], 551, 250.5, 'bold 12.5px ' + FONT, 'left');
  drawText(ctx, legendLabels[1], 551, 266.5, 'bold 12.5px ' + FONT, 'left');
}};
const decoB = { id:'decoB', afterDraw(chart){
  const ctx = chart.ctx;
  frame(chart, true);
  panelTag(ctx, '(b)', 673, 316);
  drawText(ctx, xTitle, 379, 483, 'bold 20px ' + FONT, 'center');
  drawText(ctx, '(dB)', 27, 362, 'bold 20px ' + FONT, 'center', -Math.PI/2);
}};

const dsA = [];
refCurves.forEach(c => dsA.push({data:toPts(c), borderColor:'#ff0000', borderWidth:1.3, pointRadius:0, tension: c.length > 4 ? 0.4 : 0, order:0}));
eventCurves.forEach(c => dsA.push({data:toPts(c), borderColor:'#000', borderWidth:1, pointRadius:0, tension:0, order:1}));

const axisFontY = {family: FONT, size: 15, weight: 'bold'};
const tickGrid = {drawOnChartArea:false, color:'#000', lineWidth:2, tickLength:9};

new Chart(document.getElementById('ca'), {
  type:'line',
  data:{datasets: dsA},
  options:{
    responsive:false, animation:false, events:[], devicePixelRatio:1,
    layout:{padding:{left:0, right:22, top:36, bottom:0}},
    plugins:{legend:{display:false}, tooltip:{enabled:false}},
    scales:{
      x:{type:'linear', min:0, max:24, afterBuildTicks:setTicks(hourTicks), ticks:{display:false},
         grid:{drawOnChartArea:false, drawTicks:false}, border:{display:true, color:'#000', width:2},
         afterFit: s => { s.height = 202; }},
      y:{type:'linear', min:0, max:5, afterBuildTicks:setTicks(maTicks),
         ticks:{font:axisFontY, color:'#000', padding:9, callback: v => Number(v).toFixed(1)},
         grid:tickGrid, border:{display:true, color:'#000', width:2},
         afterFit: s => { s.width = 91; }}
    }
  },
  plugins:[decoA]
});

const dsB = dbCurves.map(c => ({data:toPts(c), borderColor:'#000', borderWidth:1, pointRadius:0, tension:0.4, cubicInterpolationMode:'monotone'}));

new Chart(document.getElementById('cb'), {
  type:'line',
  data:{datasets: dsB},
  options:{
    responsive:false, animation:false, events:[], devicePixelRatio:1,
    layout:{padding:{left:0, right:22, top:290, bottom:0}},
    plugins:{legend:{display:false}, tooltip:{enabled:false}},
    scales:{
      x:{type:'linear', min:0, max:24, afterBuildTicks:setTicks(hourTicks),
         ticks:{font:{family:FONT, size:17, weight:'bold'}, color:'#000', padding:8, callback: v => String(v)},
         grid:{drawOnChartArea:false, color:'#000', lineWidth:2, tickLength:8}, border:{display:true, color:'#000', width:2},
         afterFit: s => { s.height = 57; }},
      y:{type:'linear', min:0, max:12, afterBuildTicks:setTicks(dbTicks),
         ticks:{font:axisFontY, color:'#000', padding:9, callback: v => v >= 12 ? '' : Number(v).toFixed(1)},
         grid:tickGrid, border:{display:true, color:'#000', width:2},
         afterFit: s => { s.width = 91; }}
    }
  },
  plugins:[decoB]
});
</script>
</body></html>
